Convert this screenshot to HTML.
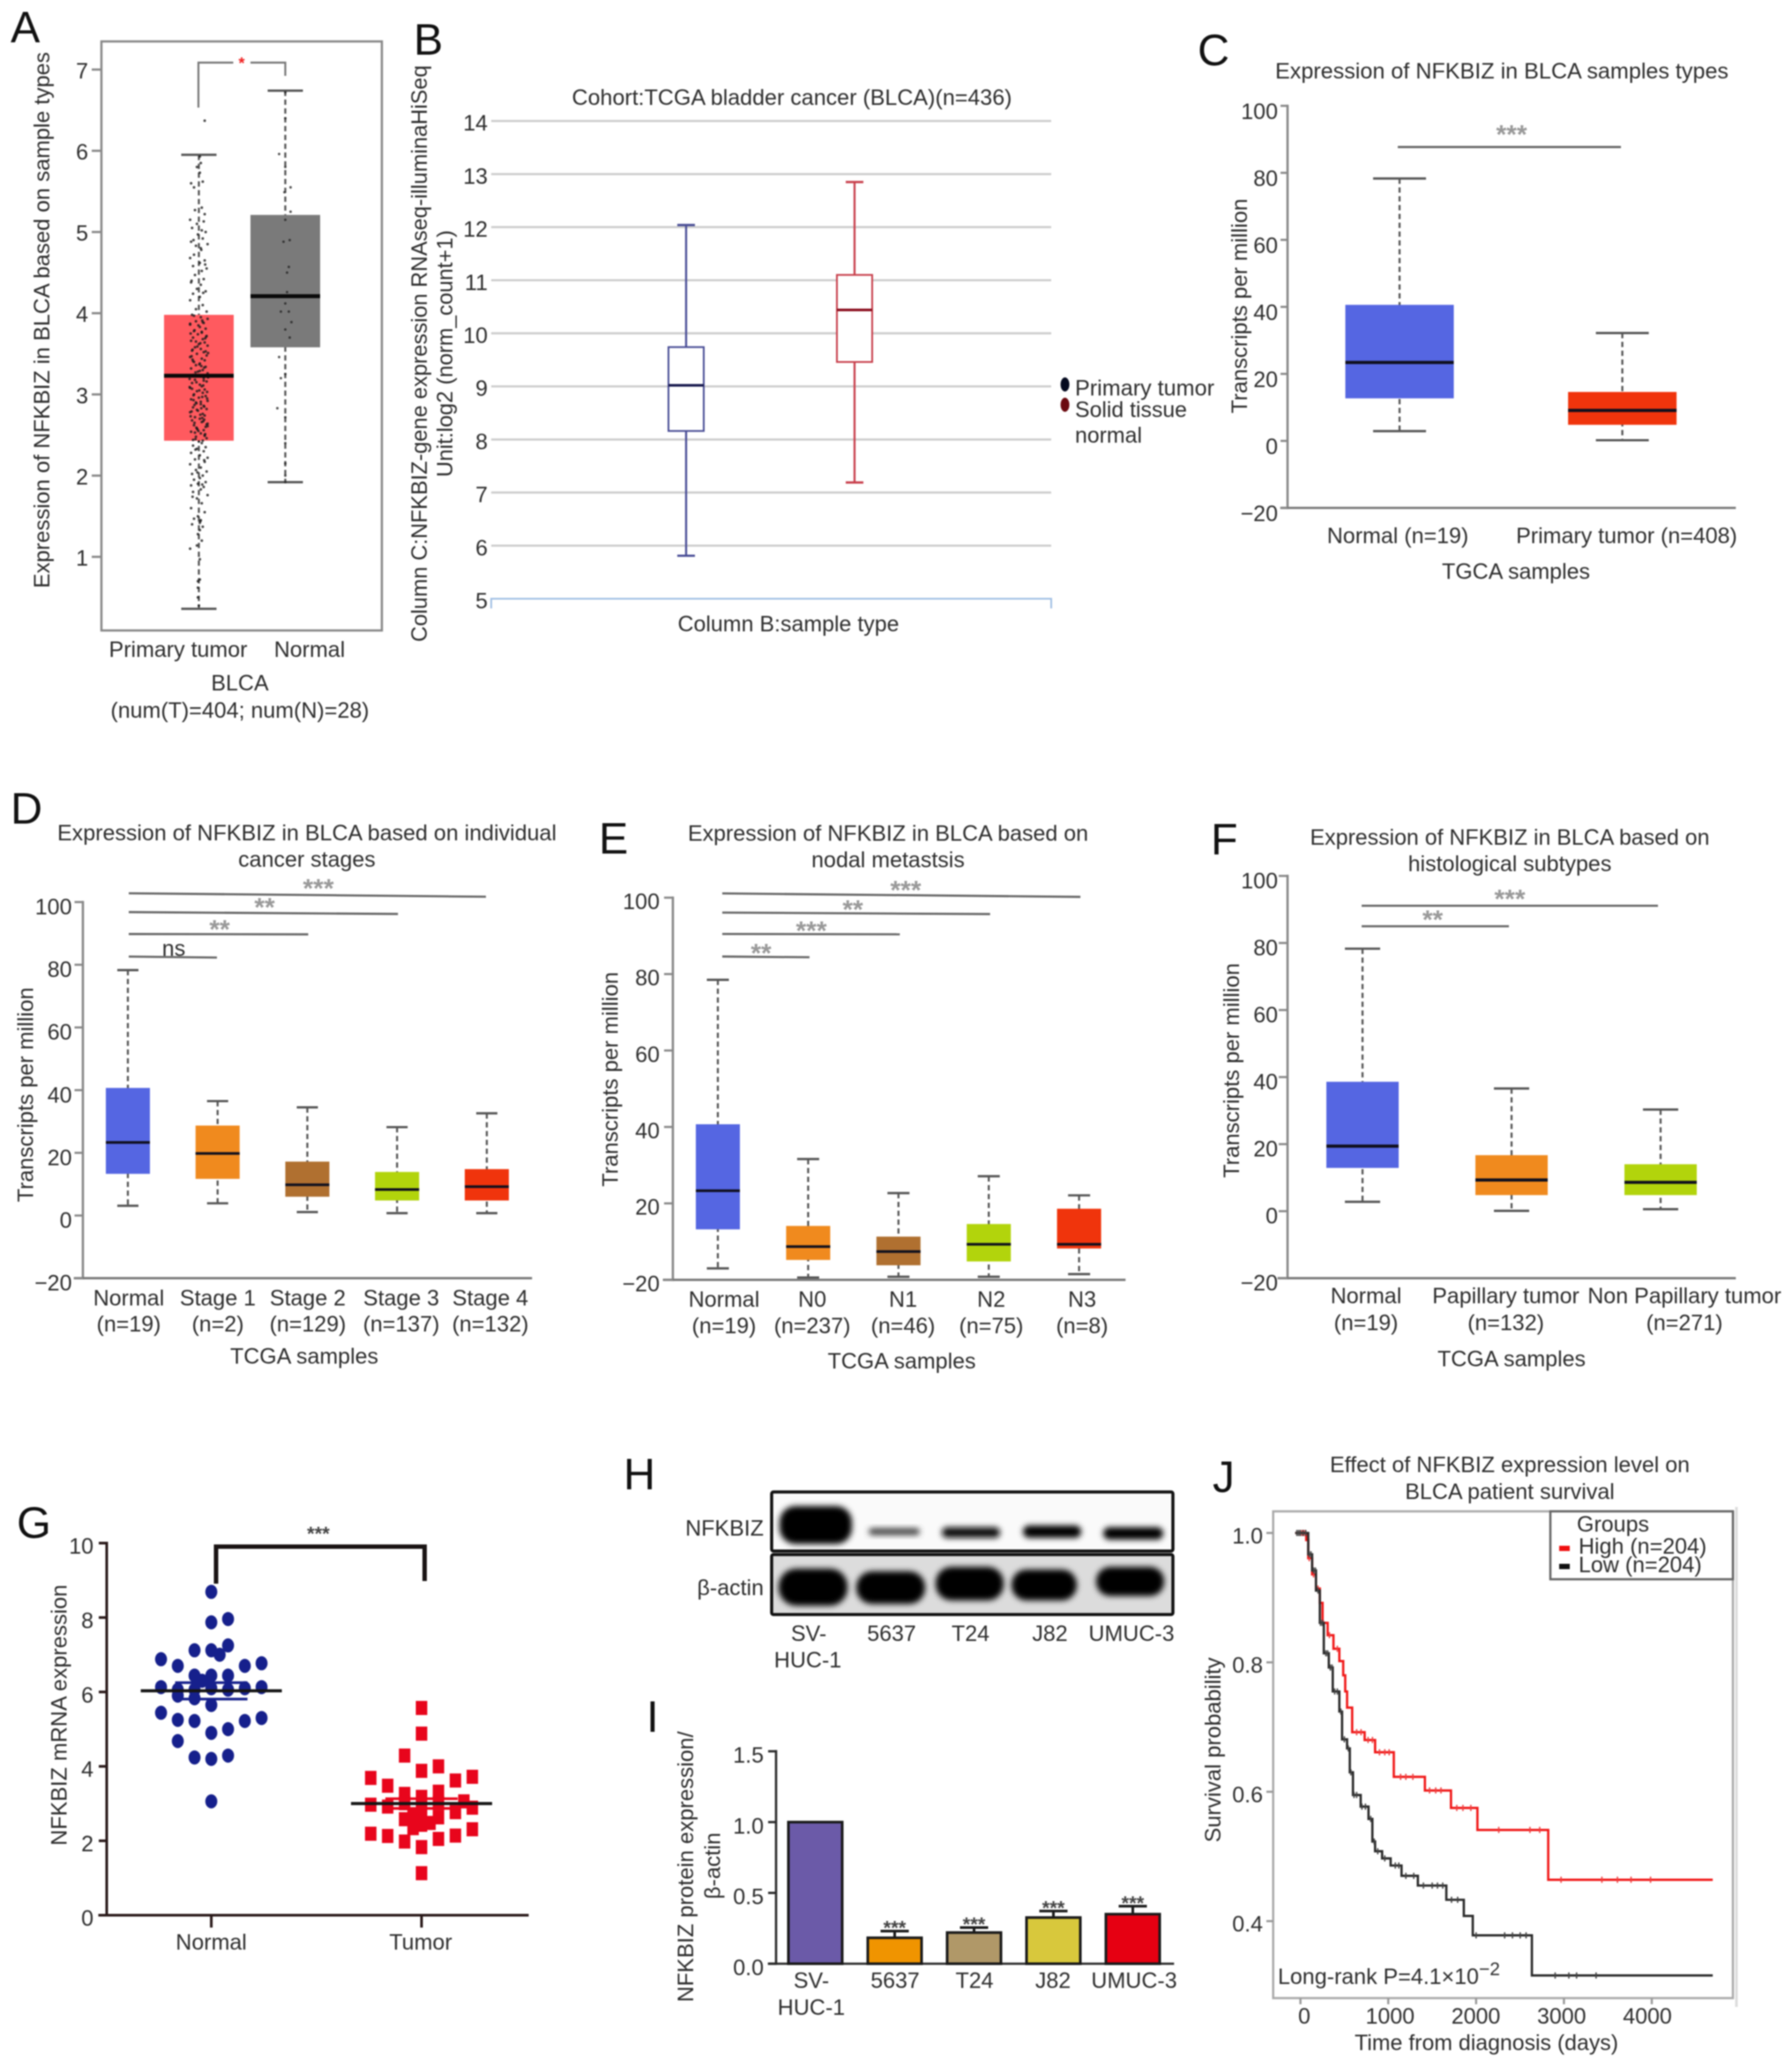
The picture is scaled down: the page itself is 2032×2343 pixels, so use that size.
<!DOCTYPE html>
<html lang="en">
<head>
<meta charset="utf-8">
<title>NFKBIZ expression in BLCA</title>
<style>
html,body{margin:0;padding:0;background:#fff;}
#figure{display:block;width:2032px;height:2343px;filter:blur(0.7px);font-family:"Liberation Sans",sans-serif;}
text{fill:#2e2e2e;font-size:25px;font-family:"Liberation Sans",sans-serif;}
.m{text-anchor:middle;}
.e{text-anchor:end;}
.panel{font-size:50px;fill:#111;}
</style>
</head>
<body>
<svg id="figure" xmlns="http://www.w3.org/2000/svg" width="2032" height="2343" viewBox="0 0 2032 2343">
<defs>
<filter id="blot" x="-30%" y="-60%" width="160%" height="220%"><feGaussianBlur stdDeviation="3.5"/></filter>
<clipPath id="blot-clip-1"><rect x="875" y="1692" width="455" height="67"/></clipPath>
<clipPath id="blot-clip-2"><rect x="875" y="1763" width="455" height="68"/></clipPath>
</defs>
<rect width="2032" height="2343" fill="#fff"/>

<!-- Panel letters -->
<text class="panel" x="12" y="48">A</text>
<text class="panel" x="469" y="62">B</text>
<text class="panel" x="1358" y="74">C</text>
<text class="panel" x="12" y="934">D</text>
<text class="panel" x="679" y="968">E</text>
<text class="panel" x="1373" y="969">F</text>
<text class="panel" x="19" y="1744">G</text>
<text class="panel" x="707" y="1689">H</text>
<text class="panel" x="733" y="1964">I</text>
<text class="panel" x="1375" y="1692">J</text>

<!-- Panel A text -->
<rect x="115" y="47" width="318" height="668" fill="none" stroke="#888" stroke-width="2.5"/>
<text class="m" transform="translate(56,363) rotate(-90)" textLength="608" lengthAdjust="spacingAndGlyphs">Expression of NFKBIZ in BLCA based on sample types</text>
<text class="m" x="272" y="783">BLCA</text>
<text class="m" x="272" y="814">(num(T)=404; num(N)=28)</text>

<!-- Panel B text -->
<text class="m" x="898" y="119" textLength="499" lengthAdjust="spacingAndGlyphs">Cohort:TCGA bladder cancer (BLCA)(n=436)</text>
<text class="m" x="894" y="716" textLength="251" lengthAdjust="spacingAndGlyphs">Column B:sample type</text>
<text class="m" transform="translate(484,401) rotate(-90)" textLength="654" lengthAdjust="spacingAndGlyphs">Column C:NFKBIZ-gene expression RNAseq-illuminaHiSeq</text>
<text class="m" transform="translate(513,401) rotate(-90)" textLength="280" lengthAdjust="spacingAndGlyphs">Unit:log2 (norm_count+1)</text>
<ellipse cx="1207.6" cy="436" rx="5" ry="8" fill="#050a20"/>
<ellipse cx="1207.6" cy="459" rx="5" ry="8" fill="#6b0a10"/>
<text x="1219" y="448.5" textLength="158" lengthAdjust="spacingAndGlyphs">Primary tumor</text>
<text x="1219" y="473" textLength="127" lengthAdjust="spacingAndGlyphs">Solid tissue</text>
<text x="1219" y="502" textLength="76" lengthAdjust="spacingAndGlyphs">normal</text>

<!-- Panel C text -->
<text class="m" x="1703" y="89" textLength="514" lengthAdjust="spacingAndGlyphs">Expression of NFKBIZ in BLCA samples types</text>
<text class="m" x="1719" y="656.5">TGCA samples</text>
<text class="m" transform="translate(1414,347) rotate(-90)">Transcripts per million</text>

<!-- Panel D text -->
<text class="m" x="348" y="953" textLength="566" lengthAdjust="spacingAndGlyphs">Expression of NFKBIZ in BLCA based on individual</text>
<text class="m" x="348" y="983">cancer stages</text>
<text class="m" x="345" y="1546.5">TCGA samples</text>
<text class="m" transform="translate(37.5,1241.5) rotate(-90)">Transcripts per million</text>
<text class="m" x="197" y="1084">ns</text>

<!-- Panel E text -->
<text class="m" x="1007" y="953.5" textLength="454" lengthAdjust="spacingAndGlyphs">Expression of NFKBIZ in BLCA based on</text>
<text class="m" x="1007" y="983.5">nodal metastsis</text>
<text class="m" x="1022.5" y="1552">TCGA samples</text>
<text class="m" transform="translate(700.5,1224) rotate(-90)">Transcripts per million</text>

<!-- Panel F text -->
<text class="m" x="1712" y="958" textLength="453" lengthAdjust="spacingAndGlyphs">Expression of NFKBIZ in BLCA based on</text>
<text class="m" x="1712" y="988">histological subtypes</text>
<text class="m" x="1714" y="1549.5">TCGA samples</text>
<text class="m" transform="translate(1405,1214) rotate(-90)">Transcripts per million</text>

<!-- Panel G text -->
<text class="m" transform="translate(75.5,1945) rotate(-90)">NFKBIZ mRNA expression</text>

<!-- Panel H western blot -->
<g>
<rect x="875" y="1692" width="455" height="67" fill="#fafafa"/>
<rect x="875" y="1763" width="455" height="68" fill="#dcdcdc"/>
<g clip-path="url(#blot-clip-1)">
<rect x="884" y="1708" width="82" height="43" rx="18" fill="#000" filter="url(#blot)"/>
<rect x="985" y="1733" width="58" height="8" rx="4" fill="#444" filter="url(#blot)"/>
<rect x="1068" y="1732" width="66" height="12" rx="6" fill="#111" filter="url(#blot)"/>
<rect x="1160" y="1730" width="66" height="14" rx="7" fill="#050505" filter="url(#blot)"/>
<rect x="1251" y="1732" width="68" height="14" rx="7" fill="#050505" filter="url(#blot)"/>
</g>
<g clip-path="url(#blot-clip-2)">
<rect x="883" y="1779" width="78" height="42" rx="20" fill="#000" filter="url(#blot)"/>
<rect x="971" y="1782" width="78" height="37" rx="18" fill="#000" filter="url(#blot)"/>
<rect x="1061" y="1777" width="77" height="38" rx="18" fill="#000" filter="url(#blot)"/>
<rect x="1147" y="1780" width="74" height="35" rx="17" fill="#000" filter="url(#blot)"/>
<rect x="1243" y="1777" width="77" height="33" rx="16" fill="#000" filter="url(#blot)"/>
</g>
<rect x="875" y="1692" width="455" height="67" rx="2" fill="none" stroke="#111" stroke-width="3.5"/>
<rect x="875" y="1763" width="455" height="68" rx="2" fill="none" stroke="#111" stroke-width="3.5"/>
</g>
<text class="e" x="866" y="1741.5">NFKBIZ</text>
<text class="e" x="866" y="1809">β-actin</text>
<text class="m" x="917" y="1861">SV-</text>
<text class="m" x="916" y="1891">HUC-1</text>
<text class="m" x="1011" y="1861">5637</text>
<text class="m" x="1100.5" y="1861">T24</text>
<text class="m" x="1190.5" y="1861">J82</text>
<text class="m" x="1283" y="1861">UMUC-3</text>

<!-- Panel I text -->
<text class="m" transform="translate(786,2117) rotate(-90)">NFKBIZ protein expression/</text>
<text class="m" transform="translate(816.5,2116) rotate(-90)">β-actin</text>

<!-- Panel J text -->
<text class="m" x="1712" y="1669.5">Effect of NFKBIZ expression level on</text>
<text class="m" x="1712" y="1700">BLCA patient survival</text>
<rect x="1443.7" y="1714" width="521.3" height="552" fill="none" stroke="#aaa" stroke-width="2.5"/>
<line x1="1969" y1="1709" x2="1969" y2="2276" stroke="#ddd" stroke-width="3"/>
<text class="m" x="1685.5" y="2325" textLength="299" lengthAdjust="spacingAndGlyphs">Time from diagnosis (days)</text>
<text class="m" transform="translate(1384,1984.5) rotate(-90)">Survival probability</text>
<text x="1449" y="2250">Long-rank P=4.1×10<tspan dy="-10" font-size="21" style="font-size:21px">−2</tspan></text>

<g id="plot-layer"></g>

<!-- J legend on top of the curves -->
<rect x="1758" y="1714" width="207" height="77" fill="#fff" stroke="#666" stroke-width="2.5"/>
<text x="1788" y="1737">Groups</text>
<rect x="1768" y="1753" width="12" height="6" fill="#f01010"/>
<rect x="1768" y="1773.5" width="12" height="6" fill="#111"/>
<text x="1790" y="1762">High (n=204)</text>
<text x="1790" y="1783">Low (n=204)</text>
</svg>

<script>
// ---------- Panel A data ----------
const aCategories = ['Primary tumor', 'Normal'];
const aLow = [0.36, 1.92];
const aQ1 = [2.43, 3.58];
const aMedian = [3.23, 4.21];
const aQ3 = [3.98, 5.21];
const aHigh = [5.95, 6.74];
const aTicks = [1, 2, 3, 4, 5, 6, 7];
const aTumorValues = [6.37,5.93,5.85,5.8,5.73,5.6,5.62,5.55,5.3,5.27,5.22,5.15,5.13,5.1,5.05,5.02,5.0,4.97,4.92,4.88,4.85,4.83,4.8,4.72,4.68,4.65,4.62,4.58,4.55,4.52,4.47,4.42,4.38,4.35,4.3,4.27,4.24,4.2,4.16,4.1,4.05,4.02,
3.98,3.95,3.93,3.9,3.88,3.86,3.83,3.81,3.78,3.76,3.74,3.72,3.7,3.68,3.66,3.64,3.62,3.6,3.58,3.56,3.54,3.52,3.5,3.48,3.46,3.44,3.42,3.4,3.38,3.36,3.34,3.32,3.3,3.28,3.26,3.24,3.22,3.2,3.18,3.16,3.14,3.12,3.1,3.08,3.06,3.04,3.02,3.0,2.98,2.96,2.94,2.92,2.9,2.88,2.86,2.84,2.82,2.8,2.78,2.76,2.74,2.72,2.7,2.68,2.66,2.64,2.62,2.6,2.58,2.56,2.54,2.52,2.5,2.48,2.46,2.44,2.42,
3.91,3.79,3.63,3.47,3.33,3.15,3.03,2.93,2.83,2.73,2.67,2.57,2.51,2.45,3.85,3.71,3.55,3.37,3.21,3.09,2.97,2.87,2.69,2.59,
2.4,2.37,2.35,2.33,2.3,2.28,2.25,2.22,2.2,2.17,2.14,2.1,2.07,2.05,2.02,2.0,1.97,1.95,1.92,1.9,1.88,1.86,1.83,1.8,1.76,1.72,1.66,1.6,1.55,1.5,1.47,1.45,1.42,1.4,1.37,1.33,1.28,1.2,1.14,1.1,0.97,0.72,0.7,0.62,0.5,0.4,
3.97,3.89,3.75,3.69,3.59,3.51,3.43,3.35,3.27,3.23,3.19,3.11,3.05,2.99,2.95,2.89,2.85,2.79,2.75,2.71,2.65,2.61,2.55,2.49,3.87,3.77,3.65,3.53,3.41,3.29,3.17,3.07,2.91,2.81,2.63,2.53,2.43,4.9,4.78,4.6,4.4,4.25,2.32,2.19,2.04,1.89,1.74,1.44];
const aTumorJitter = [0.6,0.1,0.2,-0.2,0.1,-0.8,0.4,-0.5,0.3,-0.4,0.6,-0.9,0.5,-0.2,-0.7,0.3,0.7,-0.1,0.4,-0.8,0.9,-0.3,0.2,-0.5,-0.9,0.6,0.1,-0.6,0.8,0.3,-0.4,0.5,-0.8,0.2,-0.2,0.7,-0.6,0.1,-0.9,0.4,-0.3,0.8,
-0.7,0.2,0.9,-0.3,0.5,-0.9,0.1,0.7,-0.5,0.3,-0.1,0.8,-0.6,0.4,-0.8,0.6,0,0.9,-0.4,0.2,-0.7,0.5,-0.2,0.8,-0.9,0.3,0.6,-0.5,0.1,-0.3,0.7,-0.8,0.4,-0.1,0.9,-0.6,0.2,0.5,-0.4,0.8,-0.7,0.1,0.3,-0.9,0.6,-0.2,0.4,-0.5,0.7,0,-0.8,0.9,-0.3,0.2,0.5,-0.6,0.8,-0.1,-0.9,0.4,0.6,-0.4,0.1,-0.7,0.3,0.9,-0.5,0.7,-0.2,0.5,-0.8,0.2,0.6,-0.3,0.8,-0.6,0,
0.35,-0.45,0.15,-0.75,0.55,-0.25,0.85,-0.55,0.25,-0.85,0.45,-0.15,0.65,-0.35,-0.05,0.75,-0.65,0.05,0.95,-0.95,0.35,-0.45,0.55,-0.25,
0.3,-0.6,0.7,-0.2,0.5,-0.8,0.1,0.9,-0.4,0.6,-0.9,0.2,-0.3,0.8,-0.7,0.4,0.1,-0.5,0.7,-0.1,-0.8,0.5,0.2,-0.6,0.9,-0.2,0.3,-0.8,0.6,-0.1,-0.5,0.2,0.1,-0.7,0.4,0.1,-0.1,0.3,-0.2,-0.9,0.1,0.1,-0.1,-0.1,-0.1,0,
-0.5,0.4,-0.85,0.65,-0.15,0.95,-0.65,0.25,-0.35,0.75,-0.95,0.45,0.05,-0.55,0.85,-0.25,0.55,-0.75,0.15,0.35,-0.45,0.9,-0.05,0.6,-0.9,0.3,-0.3,0.7,-0.6,0.1,0.5,-0.7,0.2,-0.2,0.8,-0.4,0.4,-0.55,0.25,0.65,-0.75,0.45,-0.35,0.55,-0.15,0.35,-0.65,0.15];
const aNormalValues = [6.72,6.4,5.96,5.8,5.55,5.49,5.25,5.15,4.88,4.9,4.57,4.5,4.26,4.12,4.02,4.02,3.89,3.8,3.7,3.46,3.25,3.2,2.83,2.72,2.4,2.15,2.0,1.92];
const aNormalJitter = [0,0,-0.7,0,0.6,-0.1,0.6,0,-0.2,0.5,0.4,0.2,0.2,0,-0.5,0.4,0.7,0,0.5,-0.7,0,-0.5,-0.9,0,0,0,0,0];

// ---------- Panel B data ----------
const bCategories = ['Primary tumor', 'Solid tissue normal'];
const bLow = [5.81, 7.19];
const bQ1 = [8.16, 9.46];
const bMedian = [9.02, 10.44];
const bQ3 = [9.74, 11.10];
const bHigh = [12.04, 12.85];
const bTicks = [5, 6, 7, 8, 9, 10, 11, 12, 13, 14];

// ---------- Panel C data ----------
const cCategories = ['Normal (n=19)', 'Primary tumor (n=408)'];
const cLow = [2.9, 0.2];
const cQ1 = [12.7, 4.8];
const cMedian = [23.4, 9.1];
const cQ3 = [40.6, 14.6];
const cHigh = [78.3, 32.2];
const cTicks = [-20, 0, 20, 40, 60, 80, 100];
const cTickLabels = ['−20', '0', '20', '40', '60', '80', '100'];

// ---------- Panel D data ----------
const dNames = ['Normal', 'Stage 1', 'Stage 2', 'Stage 3', 'Stage 4'];
const dCounts = ['(n=19)', '(n=2)', '(n=129)', '(n=137)', '(n=132)'];
const dLow = [3.1, 3.9, 1.1, 0.75, 0.75];
const dQ1 = [13.3, 11.7, 6.0, 4.8, 4.8];
const dMedian = [23.3, 19.8, 9.8, 8.3, 9.2];
const dQ3 = [40.7, 28.7, 17.2, 13.9, 14.8];
const dHigh = [78.3, 36.5, 34.5, 28.2, 32.6];
const dTicks = [-20, 0, 20, 40, 60, 80, 100];
const dTickLabels = ['−20', '0', '20', '40', '60', '80', '100'];
const dSigTargets = [2, 3, 4];
const dSigStart = [89.8, 96.8, 102.8];
const dSigEnd = [89.7, 96.2, 101.7];
const dSigStars = ['**', '**', '***'];

// ---------- Panel E data ----------
const eNames = ['Normal', 'N0', 'N1', 'N2', 'N3'];
const eCounts = ['(n=19)', '(n=237)', '(n=46)', '(n=75)', '(n=8)'];
const eLow = [3.0, 0.6, 0.8, 0.8, 1.5];
const eQ1 = [13.2, 5.2, 3.8, 4.8, 8.2];
const eMedian = [23.3, 8.7, 7.4, 9.3, 9.3];
const eQ3 = [40.7, 14.1, 11.3, 14.6, 18.6];
const eHigh = [78.5, 31.6, 22.7, 27.1, 22.1];
const eTicks = [0, 20, 40, 60, 80, 100];
const eTickLabels = ['−20', '20', '40', '60', '80', '100'];
const eSigTargets = [1, 2, 3, 4];
const eSigStart = [84.6, 90.5, 96.1, 101.1];
const eSigEnd = [84.4, 90.4, 95.7, 100.2];
const eSigStars = ['**', '***', '**', '***'];

// ---------- Panel F data ----------
const fNames = ['Normal', 'Papillary tumor', 'Non Papillary tumor'];
const fCounts = ['(n=19)', '(n=132)', '(n=271)'];
const fLow = [2.8, 0.1, 0.6];
const fQ1 = [12.9, 4.8, 4.8];
const fMedian = [19.4, 9.3, 8.6];
const fQ3 = [38.6, 16.7, 14.0];
const fHigh = [78.3, 36.6, 30.3];
const fTicks = [-20, 0, 20, 40, 60, 80, 100];
const fTickLabels = ['−20', '0', '20', '40', '60', '80', '100'];
const fSigTargets = [1, 2];
const fSigStart = [85, 91.1];
const fSigStars = ['**', '***'];

// ---------- Panel G data ----------
const gCategories = ['Normal', 'Tumor'];
const gTicks = [0, 2, 4, 6, 8, 10];
const gNormalValues = [8.69,7.87,7.96,7.12,7.12,7.0,7.25,6.88,6.7,6.7,6.77,6.44,6.3,6.44,6.44,6.13,6.06,6.06,6.1,6.06,6.1,6.13,5.9,5.83,5.65,5.44,5.25,5.22,5.22,5.3,4.9,5.0,4.68,4.24,4.2,4.29,3.06];
const gNormalColumns = [0,0,1,-1,0,0.5,1,-3,-2,2,3,-1,-0.55,0,1,-3,-2,-1,0,1,2,3,-2,-1,0,-3,-2,-1,2,3,0,1,-2,-1,0,1,0];
const gTumorValues = [5.57,4.88,4.29,4.0,3.88,3.69,3.62,3.72,3.48,3.26,3.32,3.18,2.97,2.92,3.01,2.97,3.01,2.77,2.89,3.06,2.68,2.58,2.68,2.63,2.48,2.34,2.43,2.19,2.13,1.98,2.05,2.14,2.31,1.83,1.13];
const gTumorColumns = [0,0,-1,1,0,-3,2,3,-2,-1,1,0,-3,-2,-1,0,1,2,3,2.5,-0.5,-1,0,1,0.5,-0.5,0,-3,-2,-1,1,2,3,0,0];
const gMeans = [6.03, 3.0];
const gErrors = [0.22, 0.13];

// ---------- Panel I data ----------
const iCategories = ['SV-', '5637', 'T24', 'J82', 'UMUC-3'];
const iValues = [1.0, 0.183, 0.22, 0.326, 0.35];
const iErrors = [0, 0.047, 0.035, 0.046, 0.056];
const iTicks = [0, 0.5, 1.0, 1.5];
const iTickLabels = ['0.0', '0.5', '1.0', '1.5'];
const iStars = ['', '***', '***', '***', '***'];
const iColors = ['#6b5aa8', '#f09400', '#b09868', '#d8c83c', '#e60012'];

// ---------- Panel J data ----------
const jHighTimes = [-60,66,89,133,177,221,252,310,376,443,487,510,531,589,731,850,1063,1417,1714,2015,2821];
const jHighSurvival = [1.0,0.989,0.961,0.936,0.914,0.892,0.861,0.842,0.821,0.802,0.78,0.755,0.73,0.692,0.68,0.661,0.623,0.602,0.575,0.541,0.464];
const jHighEnd = 4694;
const jHighCensored = [0,20,40,60,100,150,200,260,330,420,640,690,770,820,900,960,1010,1140,1200,1280,1470,1540,1600,1780,1850,1940,2258,2613,2724,2967,3432,3609,3764,3986];
const jLowTimes = [-60,89,133,177,221,266,323,368,443,474,531,562,598,686,775,819,850,930,1027,1151,1337,1661,1860,1962,2635];
const jLowSurvival = [1.0,0.967,0.942,0.911,0.861,0.814,0.792,0.755,0.724,0.681,0.667,0.63,0.595,0.577,0.558,0.523,0.508,0.497,0.486,0.47,0.455,0.433,0.408,0.378,0.316];
const jLowEnd = 4694;
const jLowCensored = [-40,-20,0,30,60,100,120,150,170,200,230,250,290,310,340,360,390,420,460,500,545,575,610,640,700,740,800,840,880,960,1080,1120,1200,1290,1400,1500,1560,1620,1720,1790,2000,2325,2414,2502,2569,2900,3056,3144,3366];
const jTicksX = [0, 1000, 2000, 3000, 4000];
const jTicksY = [0.4, 0.6, 0.8, 1.0];
const jTickLabelsY = ['0.4', '0.6', '0.8', '1.0'];

// ---------- Shared colours ----------
const BLUE = '#5566e2', ORANGE = '#f08a1e', BROWN = '#b07030', GREEN = '#b2d40c', RED = '#f0340c';

// ---------- Axis functions ----------
const aX = i => 225.5 + 98 * i;
const aY = v => 631.5 - (v - 1) * 92.1;
const bX = i => 778 + 191 * i;
const bY = v => 679 - (v - 5) * 60.2;
const cX = i => 1587 + 252.6 * i;
const cY = v => 576 - (v + 20) * 3.8;
const dX = i => 145 + 101.75 * i;
const dY = v => 1449.6 - (v + 20) * 3.555;
const eX = i => 814 + 102.4 * i;
const eY = v => 1451.4 - v * 4.334;
const fX = i => 1545 + 169 * i;
const fY = v => 1449.6 - (v + 20) * 3.802;
const gX = i => 239.6 + 238.4 * i;
const gY = v => 2172 - v * 42.2;
const iX = i => 924.5 + 90 * i;
const iY = v => 2227 - v * 160.6;
const jX = t => 1474.6 + t * 0.0996;
const jY = s => 1738.5 + (1 - s) * 733.7;

const layer = document.getElementById('plot-layer');
const NS = 'http://www.w3.org/2000/svg';
function mk(tag, attrs, text) {
  const n = document.createElementNS(NS, tag);
  for (const k in attrs) n.setAttribute(k, attrs[k]);
  if (text !== undefined) n.textContent = text;
  layer.appendChild(n);
  return n;
}

function yAxis(prefix, yFn, ticks, labels, axisX, tickLeft, labelRight, labelDy, color, width) {
  ticks.forEach((t, i) => {
    const tick = mk('line', {x1: tickLeft, x2: axisX, y1: yFn(t), y2: yFn(t), stroke: color, 'stroke-width': width});
    
    
    const lab = mk('text', {x: labelRight, y: yFn(t) + labelDy, class: 'e'}, labels[i]);
    
    
  });
}

function axisLine(name, x1, y1, x2, y2, color, width) {
  const l = mk('line', {x1, y1, x2, y2, stroke: color, 'stroke-width': width, 'stroke-linecap': 'square'});
  
  
}

function box(prefix, xc, yFn, low, q1, med, q3, high, halfW, capHalf, fill, stroke, dash, whiskerColor, medColor, medWidth) {
  const w = mk('line', {x1: xc, x2: xc, y1: yFn(high), y2: yFn(low), stroke: whiskerColor, 'stroke-width': 2.3, 'stroke-dasharray': dash});
  
  
  const capHigh = mk('line', {x1: xc - capHalf, x2: xc + capHalf, y1: yFn(high), y2: yFn(high), stroke: whiskerColor, 'stroke-width': 2.6});
  
  
  const capLow = mk('line', {x1: xc - capHalf, x2: xc + capHalf, y1: yFn(low), y2: yFn(low), stroke: whiskerColor, 'stroke-width': 2.6});
  
  
  const r = mk('rect', {x: xc - halfW, width: 2 * halfW, y: yFn(q3), height: yFn(q1) - yFn(q3), fill, stroke, 'stroke-width': stroke === 'none' ? 0 : 2});
  
  
  const m = mk('line', {x1: xc - halfW, x2: xc + halfW, y1: yFn(med), y2: yFn(med), stroke: medColor, 'stroke-width': medWidth});
  
  
}

function boxes(prefix, xFn, yFn, lows, q1s, meds, q3s, highs, colors, halfW, capHalf, medWidth) {
  lows.forEach((_, i) => box(prefix + '-group-' + (i + 1), xFn(i), yFn, lows[i], q1s[i], meds[i], q3s[i], highs[i], halfW, capHalf, colors[i], 'none', '6 4', '#555', '#10101e', medWidth));
}

function sig(name, x1, y1, x2, y2) {
  const l = mk('line', {x1, y1, x2, y2, stroke: '#666', 'stroke-width': 2.4});
  
  
}

function stars(name, x, yCenter, label, size, color) {
  const s = mk('text', {x, y: yCenter + size * 0.55, class: 'm', style: 'font-size:' + size + 'px;font-weight:bold;fill:' + color}, label);
  
  
}

function catLabel(name, x, y, label) {
  const s = mk('text', {x, y, class: 'm'}, label);
  
  
}

// ---------- Panel A ----------
yAxis('a', aY, aTicks, aTicks.map(String), 115, 104, 100, 10, '#888', 2.5);
boxes('a', aX, aY, aLow, aQ1, aMedian, aQ3, aHigh, ['#ff5a5f', '#7a7a7a'], 39.5, 20, 2);
aTumorValues.forEach((v, i) => {
  const p = mk('circle', {cx: aX(0) + aTumorJitter[i] * 11, cy: aY(v), r: 1.5, fill: '#1a1a1a', opacity: 0.8});
  
  
});
aNormalValues.forEach((v, i) => {
  const p = mk('circle', {cx: aX(1) + aNormalJitter[i] * 10, cy: aY(v), r: 1.4, fill: '#222', opacity: 0.8});
  
  
});
aMedian.forEach((m, i) => {
  const thick = mk('line', {x1: aX(i) - 39.5, x2: aX(i) + 39.5, y1: aY(m), y2: aY(m), stroke: '#0a0a0a', 'stroke-width': 4.5});
  
  
});
aCategories.forEach((c, i) => catLabel('a-x-tick-label', i === 0 ? 202 : 351, 745, c));
const aBracket = mk('path', {d: 'M225 122V71H264.5M284 71H323.5V86', fill: 'none', stroke: '#777', 'stroke-width': 2.2});


stars('a-significance-star', 274, 68, '*', 18, '#f02020');

// ---------- Panel B ----------
bTicks.filter(t => t > 5).forEach(t => {
  const g = mk('line', {x1: 557, x2: 1192, y1: bY(t), y2: bY(t), stroke: '#ccc', 'stroke-width': 2.4});
  
  
});
const bBase = mk('path', {d: 'M557 ' + (bY(5) + 11) + 'V' + bY(5) + 'H1192V' + (bY(5) + 11), fill: 'none', stroke: '#a3c0e4', 'stroke-width': 2});


bTicks.forEach(t => {
  const lab = mk('text', {x: 553, y: bY(t) + 11, class: 'e'}, String(t));
  
  
});
bCategories.forEach((c, i) => {
  const stroke = i === 0 ? '#4a4e96' : '#c8404c';
  const dark = i === 0 ? '#1a1c50' : '#8c1020';
  box('b-' + (i === 0 ? 'primary-tumor' : 'solid-tissue-normal'), bX(i), bY, bLow[i], bQ1[i], bMedian[i], bQ3[i], bHigh[i], 20, 10, '#fff', stroke, 'none', stroke, dark, 3);
});

// ---------- Panel C ----------
axisLine('c-y-axis-line', 1460, cY(100), 1460, cY(-20), '#888', 2.6);
axisLine('c-x-axis-line', 1453, cY(-20), 1967, cY(-20), '#777', 2.6);
yAxis('c', cY, cTicks, cTickLabels, 1460, 1452, 1449, 15, '#888', 2.4);
boxes('c', cX, cY, cLow, cQ1, cMedian, cQ3, cHigh, [BLUE, RED], 61.5, 30, 3.6);
catLabel('c-x-tick-label', 1585, 616, cCategories[0]);
catLabel('c-x-tick-label', 1844.5, 616, cCategories[1]);
sig('c-significance-line', 1585, cY(87.7), 1838, cY(87.7));
stars('c-significance-stars', 1714, 146, '***', 30, '#999');

// ---------- Panel D ----------
axisLine('d-y-axis-line', 94, dY(100), 94, dY(-20), '#888', 2.6);
axisLine('d-x-axis-line', 85, dY(-20), 602, dY(-20), '#777', 2.6);
yAxis('d', dY, dTicks, dTickLabels, 94, 84.5, 81.5, 14, '#888', 2.4);
boxes('d', dX, dY, dLow, dQ1, dMedian, dQ3, dHigh, [BLUE, ORANGE, BROWN, GREEN, RED], 25, 12, 3);
dNames.forEach((c, i) => {
  const lx = [146, 247, 349, 455, 556][i];
  catLabel('d-x-tick-label', lx, 1480.5, c);
  catLabel('d-x-tick-count', lx, 1510, dCounts[i]);
});
sig('d-significance-line-ns', 146, dY(82.6), 246, dY(82.3));
dSigTargets.forEach((t, i) => {
  sig('d-significance-line', 146, dY(dSigStart[i]), dX(t) + (i === 2 ? -1 : 1), dY(dSigEnd[i]));
  stars('d-significance-stars', [249, 300, 361][i], dY(dSigStart[i]) - 12, dSigStars[i], 30, '#999');
});

// ---------- Panel E ----------
axisLine('e-y-axis-line', 763, eY(100), 763, eY(0), '#888', 2.6);
axisLine('e-x-axis-line', 753, eY(0), 1275, eY(0), '#777', 2.6);
yAxis('e', eY, eTicks, eTickLabels, 763, 753, 748, 13, '#888', 2.4);
boxes('e', eX, eY, eLow, eQ1, eMedian, eQ3, eHigh, [BLUE, ORANGE, BROWN, GREEN, RED], 25, 12.5, 3);
eNames.forEach((c, i) => {
  const lx = [821, 921, 1024, 1124, 1227][i];
  catLabel('e-x-tick-label', lx, 1482, c);
  catLabel('e-x-tick-count', lx, 1512, eCounts[i]);
});
eSigTargets.forEach((t, i) => {
  sig('e-significance-line', 819, eY(eSigStart[i]), eX(t) + 1.5, eY(eSigEnd[i]));
  stars('e-significance-stars', [863, 920, 967, 1027][i], eY(eSigStart[i]) - 10, eSigStars[i], 30, '#999');
});

// ---------- Panel F ----------
axisLine('f-y-axis-line', 1460, fY(100), 1460, fY(-20), '#888', 2.6);
axisLine('f-x-axis-line', 1450, fY(-20), 1967, fY(-20), '#777', 2.6);
yAxis('f', fY, fTicks, fTickLabels, 1460, 1450, 1449, 14, '#888', 2.4);
boxes('f', fX, fY, fLow, fQ1, fMedian, fQ3, fHigh, [BLUE, ORANGE, GREEN], 41, 20, 3.6);
fNames.forEach((c, i) => {
  const lx = [1549, 1707.5, 1910][i];
  catLabel('f-x-tick-label', lx, 1478, c);
  catLabel('f-x-tick-count', lx, 1508.5, fCounts[i]);
});
fSigTargets.forEach((t, i) => {
  sig('f-significance-line', 1544, fY(fSigStart[i]), fX(t) - 3, fY(fSigStart[i]));
  stars('f-significance-stars', [1624.5, 1712][i], fY(fSigStart[i]) - 14, fSigStars[i], 30, '#999');
});

// ---------- Panel G ----------
axisLine('g-y-axis-line', 121, gY(10), 121, gY(0), '#2a1a1a', 3);
axisLine('g-x-axis-line', 113, gY(0), 598, gY(0), '#2a1a1a', 3);
yAxis('g', gY, gTicks, gTicks.map(String), 121, 112, 106, 12, '#2a1a1a', 3);
gCategories.forEach((c, i) => {
  const t = mk('line', {x1: gX(i), x2: gX(i), y1: gY(0), y2: gY(0) + 14, stroke: '#2a1a1a', 'stroke-width': 3});
  
  
  catLabel('g-x-tick-label', gX(i) - (i === 1 ? 1 : 0), 2211, c);
});
gNormalValues.forEach((v, i) => {
  const p = mk('ellipse', {cx: gX(0) + gNormalColumns[i] * 19, cy: gY(v), rx: 6.8, ry: 8, fill: '#16208c'});
  
  
});
gTumorValues.forEach((v, i) => {
  const p = mk('rect', {x: gX(1) + gTumorColumns[i] * 19.2 - 6.5, y: gY(v) - 8, width: 13, height: 16, fill: '#e8051c'});
  
  
});
gMeans.forEach((m, i) => {
  const errColor = i === 0 ? '#16208c' : '#e8051c';
  const xc = gX(i);
  const hi = mk('line', {x1: xc - 41, x2: xc + 41, y1: gY(m + gErrors[i]), y2: gY(m + gErrors[i]), stroke: errColor, 'stroke-width': 3});
  
  
  const lo = mk('line', {x1: xc - 41, x2: xc + 41, y1: gY(m - gErrors[i]), y2: gY(m - gErrors[i]), stroke: errColor, 'stroke-width': 3});
  
  
  const ml = mk('line', {x1: xc - 80, x2: xc + 80, y1: gY(m), y2: gY(m), stroke: '#151515', 'stroke-width': 3.5});
  
  
});
const gBracket = mk('path', {d: 'M245 1796V1754H481.5V1793', fill: 'none', stroke: '#1a1414', 'stroke-width': 5});


stars('g-significance-stars', 361, 1735, '***', 22, '#444');

// ---------- Panel I ----------
axisLine('i-y-axis-line', 880, iY(1.5), 880, iY(0), '#2a2a2a', 2.6);
axisLine('i-x-axis-line', 872, iY(0), 1330, iY(0), '#2a2a2a', 2.6);
yAxis('i', iY, iTicks, iTickLabels, 880, 871, 866, 13, '#2a2a2a', 2.6);
iValues.forEach((v, i) => {
  const xc = iX(i);
  if (iErrors[i] > 0) {
    const e = mk('line', {x1: xc, x2: xc, y1: iY(v), y2: iY(v + iErrors[i]), stroke: '#1a1a1a', 'stroke-width': 3});
    
    
    const c = mk('line', {x1: xc - 16, x2: xc + 16, y1: iY(v + iErrors[i]), y2: iY(v + iErrors[i]), stroke: '#1a1a1a', 'stroke-width': 3});
    
    
    stars('i-significance-stars', xc, iY(v + iErrors[i]) - 8, iStars[i], 22, '#444');
  }
  const b = mk('rect', {x: xc - 30.5, width: 61, y: iY(v), height: iY(0) - iY(v), fill: iColors[i], stroke: '#1a1a1a', 'stroke-width': 3});
  
  
  const lx = [920, 1015, 1105, 1194, 1286][i];
  catLabel('i-x-tick-label', lx, 2254.5, iCategories[i]);
});
catLabel('i-x-tick-label-second-line', 920, 2285, 'HUC-1');

// ---------- Panel J ----------
yAxis('j', jY, jTicksY, jTickLabelsY, 1443.7, 1436, 1432, 12, '#999', 2.4);
jTicksX.forEach(t => {
  const tk = mk('line', {x1: jX(t), x2: jX(t), y1: 2266, y2: 2273, stroke: '#999', 'stroke-width': 2.4});
  
  
  const lab = mk('text', {x: 1479 + t * 0.09725, y: 2295, class: 'm'}, String(t));
  
  
});
function stepPath(times, surv, end) {
  let d = 'M' + jX(times[0]) + ' ' + jY(surv[0]);
  for (let i = 1; i < times.length; i++) d += 'H' + jX(times[i]) + 'V' + jY(surv[i]);
  return d + 'H' + jX(end);
}
function survivalAt(t, times, surv) {
  let s = surv[0];
  for (let i = 0; i < times.length; i++) if (times[i] <= t) s = surv[i];
  return s;
}
const jHighLine = mk('path', {d: stepPath(jHighTimes, jHighSurvival, jHighEnd), fill: 'none', stroke: '#f01818', 'stroke-width': 2.6});


jHighCensored.forEach(t => {
  const y = jY(survivalAt(t, jHighTimes, jHighSurvival));
  const m = mk('line', {x1: jX(t), x2: jX(t), y1: y - 3.5, y2: y + 3.5, stroke: '#f04040', 'stroke-width': 1.6});
  
  
});
const jLowLine = mk('path', {d: stepPath(jLowTimes, jLowSurvival, jLowEnd), fill: 'none', stroke: '#2a2a2a', 'stroke-width': 2.6});


jLowCensored.forEach(t => {
  const y = jY(survivalAt(t, jLowTimes, jLowSurvival));
  const m = mk('line', {x1: jX(t), x2: jX(t), y1: y - 3.5, y2: y + 3.5, stroke: '#444', 'stroke-width': 1.6});
  
  
});
</script>
</body>
</html>
